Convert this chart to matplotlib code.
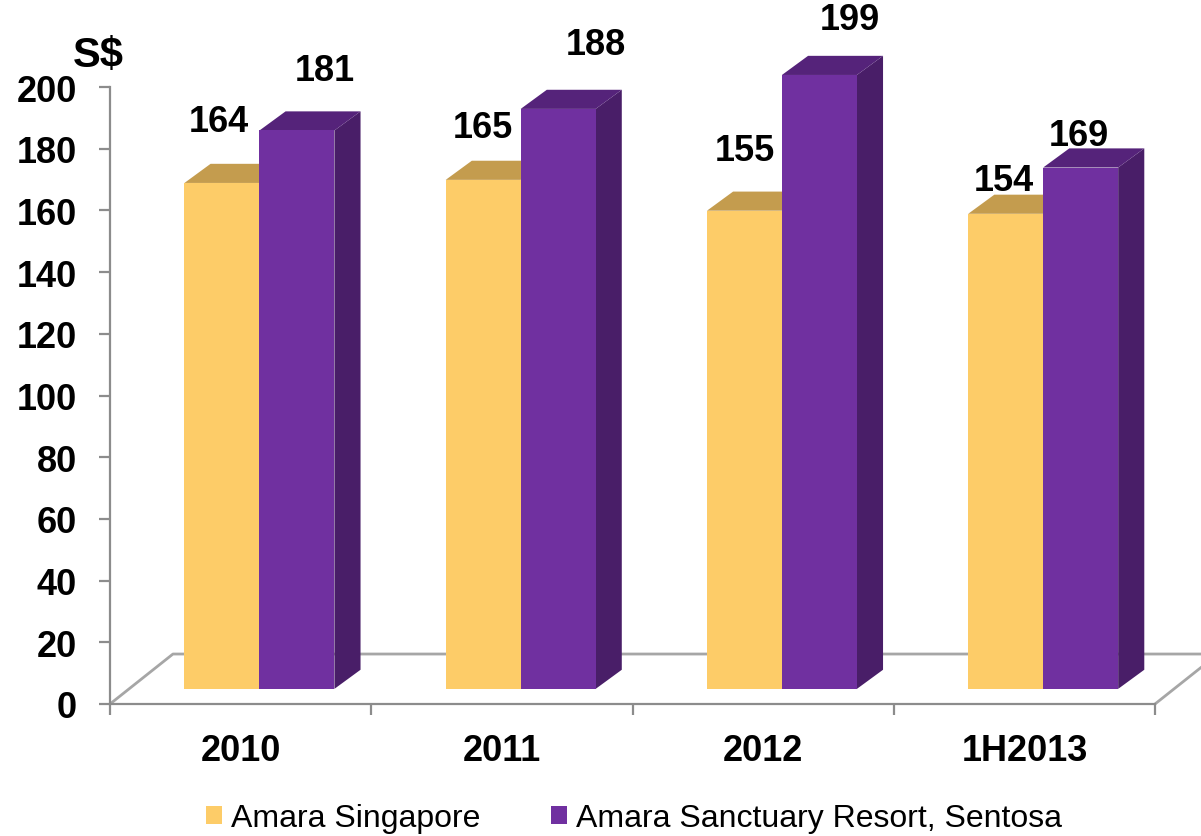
"""Average room rate chart: Amara Singapore vs Amara Sanctuary Resort, Sentosa."""

import matplotlib

matplotlib.use("Agg")
import matplotlib.pyplot as plt
from matplotlib.patches import Polygon, Patch

plt.rcParams["font.family"] = ["Liberation Sans", "DejaVu Sans"]

periods = ["2010", "2011", "2012", "1H2013"]
series_names = ["Amara Singapore", "Amara Sanctuary Resort, Sentosa"]
amara_singapore = [164, 165, 155, 154]
amara_sentosa = [181, 188, 199, 169]
y_ticks = list(range(0, 201, 20))

# (front, top, side) colours per series
colours = [
    ("#FDCC68", "#C49C4E", "#B08A40"),
    ("#7030A0", "#55237A", "#491E68"),
]
# label offsets in pixels from the top centre of each bar's front face
label_offsets = [
    [(-3, 61), (0, 52), (0, 60), (-2, 33)],
    [(28, 60), (38, 64), (30, 55), (-2, 32)],
]

W, H = 1201, 837
fig = plt.figure(figsize=(W / 100, H / 100), dpi=100)
ax = fig.add_axes([110 / W, (H - 705) / H, (1155 - 110) / W, (705 - 88) / H])
ax.set_xlim(0, 4)
ax.set_ylim(0, 200)

# pseudo-3D geometry in data units
floor_dx, floor_dy = 0.241, 16.2
front_dx, front_dy = 0.072, 4.9
depth_dx, depth_dy = 0.10, 6.2
bar_w = 0.287

# floor
ax.plot([0, floor_dx, 4 + floor_dx], [0, floor_dy, floor_dy], color="#A6A6A6",
        lw=2, clip_on=False, zorder=1)
ax.plot([4, 4 + floor_dx], [0, floor_dy], color="#A6A6A6", lw=2, clip_on=False, zorder=1)


def draw_bar(x0, val, cols, z):
    y0 = front_dy
    y1 = front_dy + val
    x1 = x0 + bar_w
    front = Polygon([(x0, y0), (x1, y0), (x1, y1), (x0, y1)], closed=True,
                    facecolor=cols[0], edgecolor="none", clip_on=False, zorder=z)
    top = Polygon([(x0, y1), (x1, y1), (x1 + depth_dx, y1 + depth_dy), (x0 + depth_dx, y1 + depth_dy)],
                  closed=True, facecolor=cols[1], edgecolor="none", clip_on=False, zorder=z)
    side = Polygon([(x1, y0), (x1 + depth_dx, y0 + depth_dy), (x1 + depth_dx, y1 + depth_dy), (x1, y1)],
                   closed=True, facecolor=cols[2], edgecolor="none", clip_on=False, zorder=z)
    for p in (side, top, front):
        ax.add_patch(p)


for i in range(len(periods)):
    centre = i + 0.5 + front_dx
    for s, values in enumerate([amara_singapore, amara_sentosa]):
        x0 = centre - bar_w + s * bar_w
        draw_bar(x0, values[i], colours[s], 2 + 2 * i + s)
        dx, dy = label_offsets[s][i]
        ax.annotate(str(values[i]), xy=(x0 + bar_w / 2, front_dy + values[i]),
                    xytext=(dx, dy), textcoords="offset pixels", ha="center", va="center",
                    fontsize=26, fontweight="bold", annotation_clip=False, zorder=20)

# axes styling
for side in ("top", "right"):
    ax.spines[side].set_visible(False)
for side in ("left", "bottom"):
    ax.spines[side].set_color("#8C8C8C")
    ax.spines[side].set_linewidth(1.6)
    ax.spines[side].set_zorder(1.5)

ax.set_yticks(y_ticks)
ax.set_yticklabels([str(t) for t in y_ticks], fontsize=26, fontweight="bold")
ax.tick_params(axis="y", length=8, width=1.6, color="#8C8C8C", pad=16)

ax.set_xticks(range(5))
ax.set_xticklabels([""] * 5)
ax.tick_params(axis="x", which="major", length=8, width=1.6, color="#8C8C8C")
ax.set_xticks([i + 0.5 for i in range(len(periods))], minor=True)
ax.set_xticklabels(periods, minor=True, fontsize=26, fontweight="bold")
ax.tick_params(axis="x", which="minor", length=0, pad=21)
ax.patch.set_visible(False)

fig.text(73 / W, 1 - 56 / H, "S$", fontsize=30, fontweight="bold", ha="left", va="center")

handles = [Patch(facecolor=colours[0][0]), Patch(facecolor=colours[1][0])]
fig.legend(handles, series_names, loc="center", bbox_to_anchor=(634 / W, 1 - 819 / H),
           ncol=2, frameon=False, fontsize=23, handlelength=0.5, handleheight=0.5,
           handletextpad=0.3, columnspacing=2.2, borderaxespad=0)

fig.savefig("out.png", dpi=100)
